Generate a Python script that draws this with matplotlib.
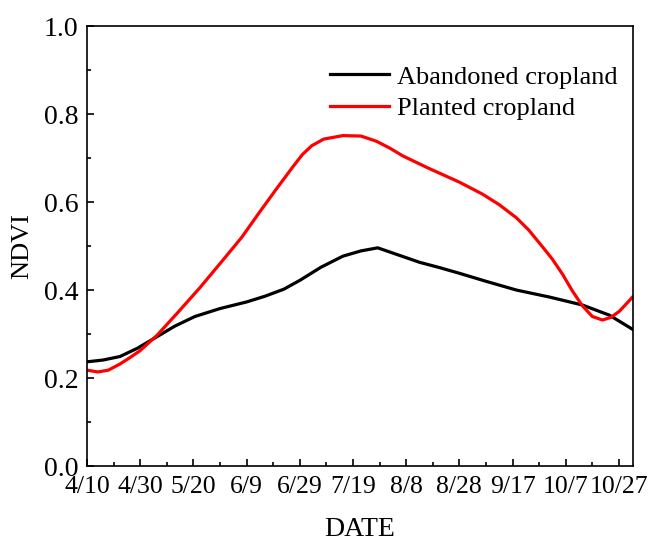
import matplotlib.pyplot as plt
import numpy as np

# days after 4/10
tick_days = [0, 20, 40, 60, 80, 100, 120, 140, 160, 180, 200]
tick_labels = ['4/10', '4/30', '5/20', '6/9', '6/29', '7/19', '8/8', '8/28', '9/17', '10/7', '10/27']

aband_days = [0, 6, 12.4, 19, 26.3, 33, 40.6, 50, 60, 66.9, 74, 80, 88, 96.2, 103, 109.3,
              116, 125.1, 132, 140.1, 150, 161.5, 174, 186.3, 196.4, 205.1]
aband_ndvi = [0.237, 0.241, 0.249, 0.268, 0.294, 0.318, 0.340, 0.358, 0.373, 0.386, 0.402, 0.422, 0.452,
              0.477, 0.489, 0.496, 0.482, 0.463, 0.452, 0.438, 0.42, 0.40, 0.384, 0.366, 0.343, 0.311]

plant_days = [0, 4.1, 8, 12.4, 16, 19.9, 26.3, 34, 42.4, 50, 58.2, 65, 71, 77.4, 81, 84.5, 89,
              96.2, 103, 108.9, 114, 118.7, 128, 140.1, 148.7, 155, 161.5, 166, 171.3, 175,
              178.8, 182.5, 186.3, 190, 193.8, 197, 200.2, 205.1]
plant_ndvi = [0.218, 0.214, 0.218, 0.232, 0.246, 0.262, 0.297, 0.348, 0.405, 0.46, 0.52, 0.578,
              0.628, 0.68, 0.708, 0.728, 0.743, 0.751, 0.75, 0.738, 0.722, 0.705, 0.678, 0.645,
              0.618, 0.594, 0.564, 0.537, 0.498, 0.47, 0.436, 0.398, 0.364, 0.34, 0.332, 0.338,
              0.352, 0.384]

plt.rcParams['font.family'] = ['Liberation Serif', 'DejaVu Serif']

fig = plt.figure(figsize=(6.51, 5.42), dpi=100)
ax = fig.add_axes([0.1336, 0.140, 0.8388, 0.812])

ax.plot(aband_days, aband_ndvi, color='black', lw=2.3, label='Abandoned cropland')
ax.plot(plant_days, plant_ndvi, color='#ff0000', lw=2.3, label='Planted cropland')

ax.set_xlim(0, 205.3)
ax.set_ylim(0, 1.0)
ax.set_xticks(tick_days)
ax.set_xticklabels(tick_labels)
ax.set_xticks(np.arange(10, 205, 20), minor=True)
ax.set_yticks(np.arange(0, 1.01, 0.2))
ax.set_yticks(np.arange(0.1, 1.0, 0.2), minor=True)
ax.yaxis.set_major_formatter(plt.FuncFormatter(lambda v, p: '%.1f' % v))

ax.tick_params(which='major', direction='in', length=5, width=1.2)
ax.tick_params(which='minor', direction='in', length=3, width=1.2)
ax.tick_params(axis='x', which='major', labelsize=18.5, pad=7)
ax.tick_params(axis='y', which='major', labelsize=20, pad=6)
for s in ax.spines.values():
    s.set_linewidth(1.2)

ax.set_xlabel('DATE', fontsize=20, labelpad=14)
ax.set_ylabel('NDVI', fontsize=19, labelpad=8)

ax.legend(loc='upper right', bbox_to_anchor=(1.015, 0.965), frameon=False, fontsize=19,
          handlelength=2.25, handletextpad=0.3, labelspacing=0.3)

fig.savefig('out.png', dpi=100)
